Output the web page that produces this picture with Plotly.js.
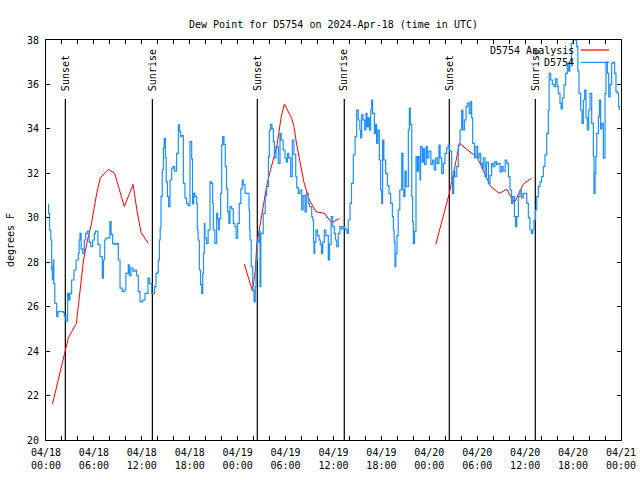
<!DOCTYPE html>
<html>
<head>
<meta charset="utf-8">
<script src="https://cdn.plot.ly/plotly-3.0.1.min.js"></script>
<style>html,body{margin:0;padding:0;background:#fff;}#chart{width:640px;height:480px;}</style>
</head>
<body>
<div id="chart"></div>
<script>
// ---- data (hours since 2024-04-18 00:00 UTC) ----
const titleText = "Dew Point for D5754 on 2024-Apr-18 (time in UTC)";
const yTitle = "degrees F";
const analysisName = "D5754 Analysis";
const obsName = "D5754";

// Analysis (red) – three segments separated by null
const anaHours = [0.8,2.4,2.8,3.8,4.7,5.2,5.7,6.35,6.8,7.8,8.6,9.8,10.9,11.4,11.9,12.8, null,
  24.83,25.85,26.2,26.4,27.0,27.7,28.13,28.9,29.43,29.85,30.76,31.05,31.4,32.3,32.98,33.8,34.85,35.77,36.73, null,
  48.8,50.5,51.2,51.76,52.05,53.3,53.93,54.76,55.68,56.77,57.7,58.43,58.73,59.77,60.8];
const anaDew = [21.6,23.9,24.6,25.25,28.1,29.0,29.75,31.1,31.8,32.18,32.0,30.5,31.5,30.3,29.35,28.85, null,
  27.92,26.7,27.6,28.8,30.1,31.55,32.18,33.2,34.5,35.12,34.48,34.1,33.27,31.6,30.8,30.27,30.2,29.78,29.97, null,
  28.8,31.1,32.3,33.35,33.27,32.9,32.78,32.15,31.4,31.1,31.28,30.8,30.73,31.52,31.78];

// Observations (blue)
const obsHours = [0.29,0.33,0.45,0.6,0.71,0.8,0.87,0.93,0.98,1.1,1.34,1.5,2.17,2.3,2.5,2.71,2.85,3.0,3.21,3.5,3.76,4.05,4.15,4.26,4.4,4.6,4.8,4.97,5.17,5.4,5.6,5.85,6.05,6.2,6.5,6.76,7.05,7.2,7.35,7.5,7.75,8.0,8.15,8.35,8.6,8.85,9.05,9.27,9.55,9.8,10.0,10.3,10.45,10.64,10.9,11.15,11.35,11.56,11.77,12.1,12.4,12.6,12.77,12.95,13.23,13.45,13.6,13.78,13.95,14.06,14.2,14.3,14.4,14.56,14.7,14.8,14.95,15.05,15.2,15.35,15.53,15.74,15.95,16.1,16.36,16.57,16.7,16.86,17.0,17.2,17.4,17.6,17.8,18.03,18.24,18.35,18.5,18.65,18.87,18.95,19.05,19.2,19.35,19.5,19.62,19.72,19.83,19.9,20.1,20.3,20.54,20.7,20.87,20.95,21.15,21.37,21.5,21.6,21.7,21.87,22.0,22.12,22.28,22.45,22.6,22.75,22.9,23.04,23.25,23.45,23.65,23.8,24.0,24.2,24.4,24.58,24.7,24.92,25.34,25.42,25.5,25.55,25.7,25.88,26.05,26.2,26.3,26.47,26.55,26.7,26.8,26.9,27.2,27.45,27.63,27.85,27.97,28.13,28.3,28.47,28.6,28.8,29.09,29.3,29.45,29.7,29.93,30.1,30.25,30.4,30.64,30.84,31.05,31.27,31.4,31.6,31.8,32.02,32.2,32.43,32.6,32.85,33.0,33.27,33.4,33.5,33.56,33.65,33.8,34.0,34.2,34.35,34.5,34.65,34.85,35.05,35.35,35.5,35.7,35.9,36.1,36.25,36.4,36.6,36.8,37.0,37.2,37.4,37.57,37.7,37.85,38.07,38.25,38.48,38.7,38.9,39.1,39.3,39.4,39.53,39.7,39.9,40.07,40.2,40.35,40.5,40.66,40.78,40.9,41.12,41.25,41.4,41.55,41.74,41.9,42.03,42.15,42.3,42.53,42.75,42.95,43.15,43.37,43.5,43.6,43.7,43.8,43.95,44.1,44.3,44.54,44.7,44.8,44.95,45.1,45.37,45.5,45.62,45.8,45.9,46.0,46.15,46.33,46.5,46.65,46.83,46.9,47.1,47.25,47.4,47.6,47.75,47.95,48.2,48.4,48.6,48.8,49.0,49.2,49.35,49.55,49.75,49.95,50.17,50.35,50.55,50.8,50.9,51.05,51.2,51.43,51.63,51.85,52.05,52.2,52.4,52.6,52.8,53.0,53.2,53.3,53.43,53.65,53.85,54.05,54.25,54.43,54.6,54.75,54.97,55.15,55.4,55.6,55.8,56.0,56.2,56.4,56.6,56.85,57.05,57.25,57.5,57.7,57.9,58.1,58.3,58.45,58.65,58.8,58.95,59.15,59.35,59.55,59.77,59.95,60.2,60.4,60.6,60.8,60.95,61.1,61.3,61.45,61.65,61.86,62.05,62.27,62.48,62.7,62.9,63.0,63.2,63.4,63.6,63.8,64.0,64.15,64.36,64.5,64.65,64.86,65.07,65.28,65.45,65.6,65.78,66.0,66.25,66.45,66.6,66.74,66.95,67.12,67.28,67.45,67.62,67.79,67.96,68.12,68.33,68.54,68.62,68.75,68.85,68.96,69.17,69.3,69.45,69.6,69.79,70.0,70.12,70.3,70.46,70.65,70.83,71.0,71.2,71.37,71.55,71.7,71.8];
const obsDew = [30.6,30.2,29.45,29.0,27.65,27.2,27.8,28.1,27.05,26.15,25.55,25.78,25.73,25.55,25.35,26.6,26.3,26.6,27.2,27.65,28.1,28.4,29.0,29.3,28.6,28.4,29.0,29.3,29.4,28.9,28.7,29.0,29.3,29.4,28.8,28.25,27.28,28.1,29.0,29.08,29.1,29.83,29.25,28.85,28.8,28.85,28.1,26.83,26.68,26.75,27.5,27.88,27.4,27.73,27.6,27.65,27.4,26.68,26.22,26.3,26.6,26.6,27.28,27.05,26.6,26.6,26.9,27.5,27.55,28.1,29.0,29.55,30.95,32.15,33.13,33.57,32.7,31.6,30.95,30.5,31.7,32.23,32.3,32.1,32.9,34.18,33.9,33.65,33.7,31.55,30.88,30.65,30.55,33.43,32.65,30.63,31.1,30.95,30.65,29.45,29.0,27.65,27.0,26.6,27.5,28.4,29.75,29.1,28.85,29.45,31.62,31.55,30.65,29.45,28.85,30.2,29.95,29.45,29.95,31.1,33.27,33.65,33.3,32.3,31.3,30.27,29.75,30.5,30.4,29.75,29.6,29.08,29.75,30.65,31.3,31.7,31.48,31.1,31.1,30.35,29.45,29.0,27.8,26.75,26.22,26.9,28.1,29.0,28.9,29.4,26.9,29.3,30.2,31.0,31.4,32.75,33.95,34.2,34.0,33.43,32.7,33.2,32.45,33.8,33.5,33.05,32.68,32.5,32.9,32.7,31.85,33.5,32.85,31.85,31.35,31.1,31.25,30.35,31.0,30.27,31.1,30.65,30.5,30.05,29.9,28.9,28.4,28.9,29.45,29.2,29.0,28.8,28.4,28.9,29.45,29.2,28.1,28.8,30.05,29.6,29.3,29.0,28.7,29.3,29.6,29.5,29.6,29.5,29.45,29.3,29.9,30.65,31.55,32.83,33.65,34.85,34.4,33.95,33.6,34.63,34.4,33.95,34.7,34.1,34.5,33.95,34.85,35.3,34.7,33.8,34.2,33.35,33.95,32.6,31.25,30.65,33.5,32.6,32.0,31.45,31.1,30.65,30.05,29.45,28.9,27.8,28.4,29.2,30.35,31.25,32.9,31.25,30.95,32.1,31.4,33.95,34.93,34.2,30.95,29.8,28.85,29.4,32.75,32.1,32.75,31.7,33.2,32.5,33.1,32.4,33.2,32.7,33.0,32.4,32.6,32.15,32.7,32.45,33.27,32.7,32.0,32.45,32.9,33.13,33.25,33.0,31.7,31.1,32.1,31.85,32.3,33.27,33.95,34.85,33.95,34.4,35.0,35.17,34.7,35.23,34.5,33.35,32.7,33.2,32.7,32.9,32.45,32.2,32.7,31.85,32.5,31.55,31.9,32.45,32.3,32.53,32.4,32.45,32.07,32.3,32.1,32.6,32.45,31.85,31.25,30.65,30.95,30.05,29.6,30.05,30.95,31.25,30.9,31.1,31.1,30.65,30.0,29.45,29.3,29.45,29.9,30.35,30.95,31.4,31.62,31.85,32.3,32.83,33.8,34.85,36.5,36.2,36.0,35.9,36.25,35.9,35.6,35.15,34.9,35.4,35.97,36.5,36.95,36.6,36.95,37.85,38.0,38.0,37.7,36.6,35.6,34.85,34.25,35.3,35.75,34.5,33.95,34.85,35.6,34.25,32.75,31.1,32.0,32.75,33.8,34.55,35.3,34.0,34.25,32.68,35.6,37.0,36.5,35.45,36.0,36.95,37.0,36.5,35.68,35.6,35.0,34.85];

// Sunrise / sunset events (hours since start)
const sunLabels = ["Sunset","Sunrise","Sunset","Sunrise","Sunset","Sunrise"];
const sunHours = [2.42,13.32,26.46,37.35,50.5,61.27];

// Axis ticks
const tickHours = [0,6,12,18,24,30,36,42,48,54,60,66,72];
const tickLabels = ["04/18<br>00:00","04/18<br>06:00","04/18<br>12:00","04/18<br>18:00",
  "04/19<br>00:00","04/19<br>06:00","04/19<br>12:00","04/19<br>18:00",
  "04/20<br>00:00","04/20<br>06:00","04/20<br>12:00","04/20<br>18:00","04/21<br>00:00"];

// ---- helpers ----
const BASE = Date.UTC(2024,3,18);
function pad(n){return (n<10?"0":"")+n;}
function toDate(h){
  if(h===null) return null;
  const d = new Date(BASE + Math.round(h*3600000));
  return d.getUTCFullYear()+"-"+pad(d.getUTCMonth()+1)+"-"+pad(d.getUTCDate())+" "+
    pad(d.getUTCHours())+":"+pad(d.getUTCMinutes())+":"+pad(d.getUTCSeconds());
}

const FONT = "DejaVu Sans Mono, Liberation Mono, monospace";
const RED = "#ff0000", BLUE = "#1e90ff";

const traces = [
  {x: anaHours.map(toDate), y: anaDew, type:"scatter", mode:"lines", name: analysisName,
   line:{color:RED, width:1}, connectgaps:false, hoverinfo:"skip"},
  {x: obsHours.map(toDate), y: obsDew, type:"scatter", mode:"lines", name: obsName,
   line:{color:BLUE, width:1.2, shape:"hv"}, hoverinfo:"skip"}
];

const shapes = sunHours.map(h => ({type:"line", xref:"x", yref:"paper", x0:toDate(h), x1:toDate(h),
  y0:0, y1:0.8525, line:{color:"#000", width:1.2}, layer:"below"}));
const annotations = sunHours.map((h,i) => ({text: sunLabels[i], x: toDate(h), xref:"x", y:0.868, yref:"paper",
  yanchor:"bottom", xanchor:"center", textangle:-90, showarrow:false, font:{family:FONT, size:10, color:"#000"}}));

// custom legend (text left of sample line)
const legendItems = [[analysisName, RED, 0.975],[obsName, BLUE, 0.944]];
legendItems.forEach(it => {
  annotations.push({text: it[0], xref:"paper", yref:"paper", x:0.921, y:it[2], xanchor:"right", yanchor:"middle",
    showarrow:false, font:{family:FONT, size:10, color:"#000"}});
  shapes.push({type:"line", xref:"paper", yref:"paper", x0:0.930, x1:0.979, y0:it[2], y1:it[2],
    line:{color:it[1], width:1.2}});
});

const layout = {
  width:640, height:480,
  margin:{l:46, r:19, t:40, b:40, pad:0},
  paper_bgcolor:"#fff", plot_bgcolor:"#fff",
  font:{family:FONT, size:10, color:"#000"},
  showlegend:false,
  title:{text:titleText, font:{family:FONT, size:10, color:"#000"}, x:0.5, xref:"paper", y:0.948, yref:"container", yanchor:"middle"},
  xaxis:{type:"date", range:[toDate(0), toDate(72)], tickvals: tickHours.map(toDate), ticktext: tickLabels,
    ticks:"inside", ticklen:4, tickwidth:1, tickcolor:"#000", showline:true, linecolor:"#000", linewidth:1,
    mirror:"allticks", showgrid:false, zeroline:false, tickfont:{family:FONT, size:10, color:"#000"},
    ticklabelstandoff:3,
    minor:{dtick:7200000, tick0:toDate(0), ticks:"inside", ticklen:4, tickcolor:"#000", showgrid:false}},
  yaxis:{range:[20,38], tick0:20, dtick:2, ticks:"inside", ticklen:4, tickwidth:1, tickcolor:"#000",
    showline:true, linecolor:"#000", linewidth:1, mirror:"allticks", showgrid:false, zeroline:false,
    tickfont:{family:FONT, size:10, color:"#000"}, ticklabelstandoff:4,
    title:{text:yTitle, font:{family:FONT, size:10, color:"#000"}, standoff:10}},
  shapes: shapes,
  annotations: annotations
};

Plotly.newPlot("chart", traces, layout, {staticPlot:true, displayModeBar:false});
</script>
</body>
</html>
